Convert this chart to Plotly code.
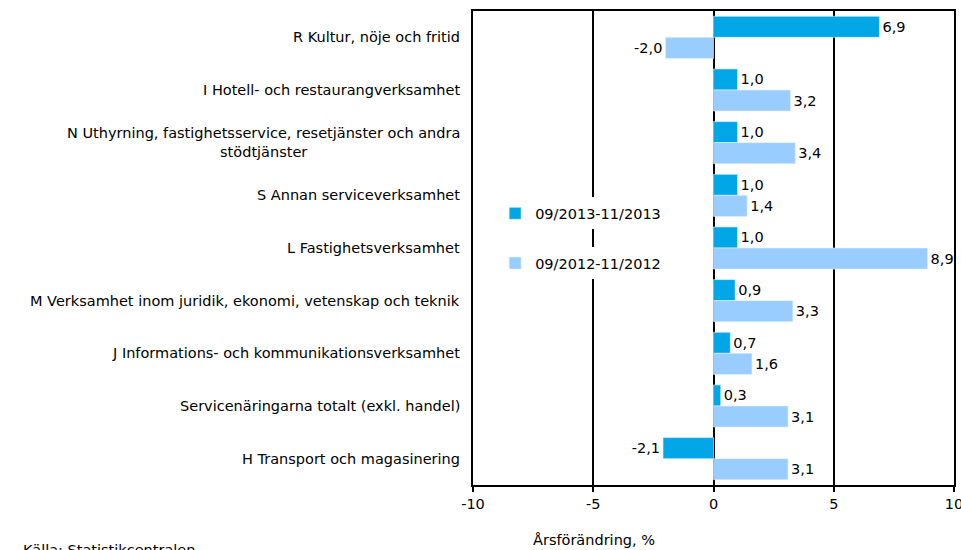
import plotly.graph_objects as go

categories = [
    "R Kultur, nöje och fritid",
    "I Hotell- och restaurangverksamhet",
    "N Uthyrning, fastighetsservice, resetjänster och andra<br>stödtjänster",
    "S Annan serviceverksamhet",
    "L Fastighetsverksamhet",
    "M Verksamhet inom juridik, ekonomi, vetenskap och teknik",
    "J Informations- och kommunikationsverksamhet",
    "Servicenäringarna totalt (exkl. handel)",
    "H Transport och magasinering",
]
series_2013 = [6.9, 1.0, 1.0, 1.0, 1.0, 0.9, 0.7, 0.3, -2.1]
series_2012 = [-2.0, 3.2, 3.4, 1.4, 8.9, 3.3, 1.6, 3.1, 3.1]
name_2013 = "09/2013-11/2013"
name_2012 = "09/2012-11/2012"
x_ticks = [-10, -5, 0, 5, 10]

FONT = "DejaVu Sans, Verdana, sans-serif"
FS = 14.5
DARK = "#00A6E6"
LIGHT = "#99CCFF"

def fmt(v):
    return f"{v:.1f}".replace(".", ",")

fig = go.Figure()
fig.add_trace(go.Bar(
    y=categories, x=series_2013, orientation="h", name=name_2013,
    marker=dict(color=DARK, line=dict(color="#E6F6FF", width=0.6)),
    text=[fmt(v) for v in series_2013], textposition="outside",
    textfont=dict(family=FONT, size=FS, color="#000000"),
    cliponaxis=False, legend="legend",
))
fig.add_trace(go.Bar(
    y=categories, x=series_2012, orientation="h", name=name_2012,
    marker=dict(color=LIGHT, line=dict(color="#E6F2FF", width=0.6)),
    text=[fmt(v) for v in series_2012], textposition="outside",
    textfont=dict(family=FONT, size=FS, color="#000000"),
    cliponaxis=False, legend="legend2",
))

annotations = []
for c in categories:
    annotations.append(dict(
        x=0, xref="paper", xshift=-11, y=c, yref="y",
        text=c, showarrow=False, xanchor="right", yanchor="middle",
        align="center", font=dict(family=FONT, size=FS, color="#000000"),
    ))
annotations.append(dict(
    x=0.251, xref="paper", y=-0.116, yref="paper", text="Årsförändring, %",
    showarrow=False, xanchor="center", yanchor="middle",
    font=dict(family=FONT, size=FS, color="#000000"),
))
annotations.append(dict(
    x=-0.94, xref="paper", y=-0.137, yref="paper", text="Källa: Statistikcentralen",
    showarrow=False, xanchor="left", yanchor="middle",
    font=dict(family=FONT, size=FS, color="#000000"),
))

fig.update_layout(
    width=961, height=550,
    margin=dict(l=473, r=7, t=11, b=65, autoexpand=False),
    paper_bgcolor="white", plot_bgcolor="white",
    barmode="group", bargap=0.2, bargroupgap=0,
    font=dict(family=FONT, size=FS, color="#000000"),
    showlegend=True,
    legend=dict(x=0.046, y=0.573, xanchor="left", yanchor="middle",
                bgcolor="white", itemwidth=30, tracegroupgap=0,
                font=dict(family=FONT, size=FS, color="#000000")),
    legend2=dict(x=0.046, y=0.468, xanchor="left", yanchor="middle",
                 bgcolor="white", itemwidth=30, tracegroupgap=0,
                 font=dict(family=FONT, size=FS, color="#000000")),
    annotations=annotations,
    xaxis=dict(
        range=[-10, 10], tickvals=x_ticks, ticktext=[str(t) for t in x_ticks],
        automargin=False, ticklabeloverflow="allow",
        showgrid=True, gridcolor="#000000", gridwidth=1.5,
        zeroline=True, zerolinecolor="#000000", zerolinewidth=1.5,
        showline=True, linecolor="#000000", linewidth=1.5, mirror=True,
        ticks="outside", ticklen=5, tickcolor="#000000", tickwidth=1.5,
        tickfont=dict(family=FONT, size=FS, color="#000000"),
    ),
    yaxis=dict(
        autorange="reversed", showticklabels=False, showgrid=False,
        automargin=False,
        showline=True, linecolor="#000000", linewidth=1.5, mirror=True,
        ticks="",
    ),
)

fig.write_html(
    "out.html",
    config={"displayModeBar": False},
    post_script="document.body.style.margin='0';document.body.style.overflow='hidden';",
)
